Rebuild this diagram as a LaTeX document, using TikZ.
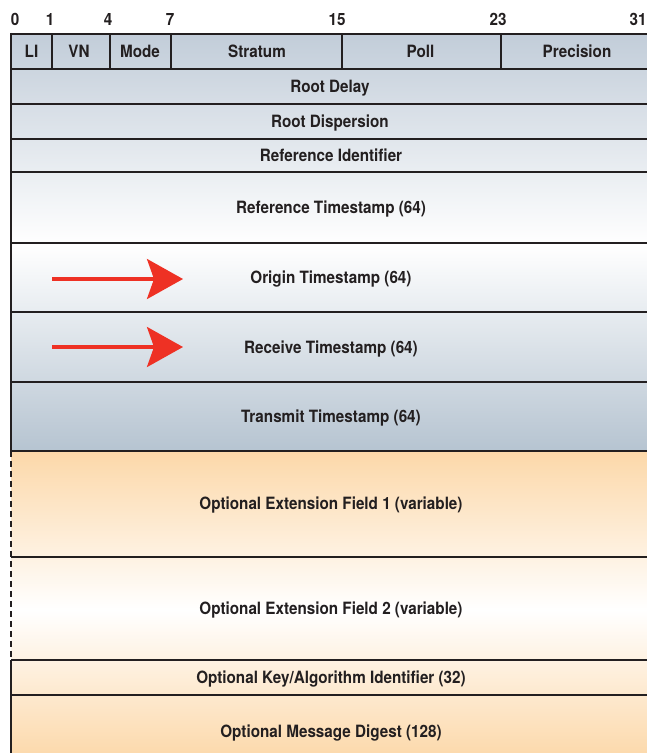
\documentclass[tikz,border=0pt]{standalone}
\usepackage{fontspec}
\setmainfont{TeX Gyre Heros}[FakeStretch=0.9]
\usetikzlibrary{arrows.meta}
\definecolor{ink}{HTML}{231F20}
\definecolor{hdrblue}{HTML}{C2CDD9}
\definecolor{lowblue}{HTML}{B6C4D1}
\definecolor{optorange}{HTML}{FCD8A9}
\definecolor{arrowred}{HTML}{EE3124}
\tikzset{
  rule/.style={draw=ink, line width=2.6bp},
  optrule/.style={rule, dash pattern=on 6bp off 4bp},
  field/.style={font=\fontsize{17}{20}\selectfont\bfseries, text=ink,
    inner sep=0pt, anchor=base},
  bitno/.style={field},
  redarrow/.style={draw=arrowred, line width=3.2bp,
    -{Stealth[length=36bp, width=40bp, inset=7bp]}}
}
\begin{document}
\begin{tikzpicture}[x=1bp,y=-1bp]
  \useasboundingbox (0,0) rectangle (647,753);
  \clip (0,0) rectangle (647,753);
  \def\L{11}
  \def\R{655}

  % background shading
  \shade[top color=hdrblue, bottom color=white] (\L,34) rectangle (\R,245);
  \shade[top color=white, bottom color=lowblue] (\L,245) rectangle (\R,451);
  \shade[top color=optorange, bottom color=white] (\L,451) rectangle (\R,610);
  \shade[top color=white, bottom color=optorange] (\L,610) rectangle (\R,760);

  % rows and columns
  \foreach \y in {34,69,104,139,172,243,312,382,451,557,660,695}
    \draw[rule] (\L,\y) -- (\R,\y);
  \foreach \x in {52,110,171,342,501}
    \draw[rule] (\x,34) -- (\x,69);
  \draw[rule] (\L,33) -- (\L,451);
  \draw[optrule] (\L,451) -- (\L,660);
  \draw[rule] (\L,660) -- (\L,760);

  % bit numbers
  \node[bitno] (b0) at (15,26) {0};
  \node[bitno] (b1) at (50,26) {1};
  \node[bitno] (b4) at (108,26) {4};
  \node[bitno] (b7) at (170,26) {7};
  \node[bitno] (b15) at (337,26) {15};
  \node[bitno] (b23) at (498,26) {23};
  \node[bitno] (b31) at (638,26) {31};

  % first word
  \node[field] (li) at (31.5,57.5) {LI};
  \node[field] (vn) at (79,57.5) {VN};
  \node[field] (mode) at (140,57.5) {Mode};
  \node[field] (stratum) at (257,57.5) {Stratum};
  \node[field] (poll) at (420.5,57.5) {Poll};
  \node[field] (prec) at (577,57.5) {Precision};

  % full-width fields
  \node[field] (rdelay) at (330,92) {Root Delay};
  \node[field] (rdisp) at (330,127) {Root Dispersion};
  \node[field] (refid) at (331,161.5) {Reference Identifier};
  \node[field] (refts) at (331,213.5) {Reference Timestamp (64)};
  \node[field] (orgts) at (331,283.5) {Origin Timestamp (64)};
  \node[field] (rcvts) at (331,353) {Receive Timestamp (64)};
  \node[field] (xmtts) at (331,422.5) {Transmit Timestamp (64)};
  \node[field] (ext1) at (331,509) {Optional Extension Field 1 (variable)};
  \node[field] (ext2) at (331,614) {Optional Extension Field 2 (variable)};
  \node[field] (keyid) at (331,683.5) {Optional Key/Algorithm Identifier (32)};
  \node[field] (dgst) at (331,737) {Optional Message Digest (128)};

  % arrows
  \coordinate (oa) at (52,279);
  \coordinate (ob) at (183,279);
  \coordinate (ra) at (52,347);
  \coordinate (rb) at (183,347);
  \draw[redarrow] (oa) -- (ob);
  \draw[redarrow] (ra) -- (rb);
\end{tikzpicture}
\end{document}
